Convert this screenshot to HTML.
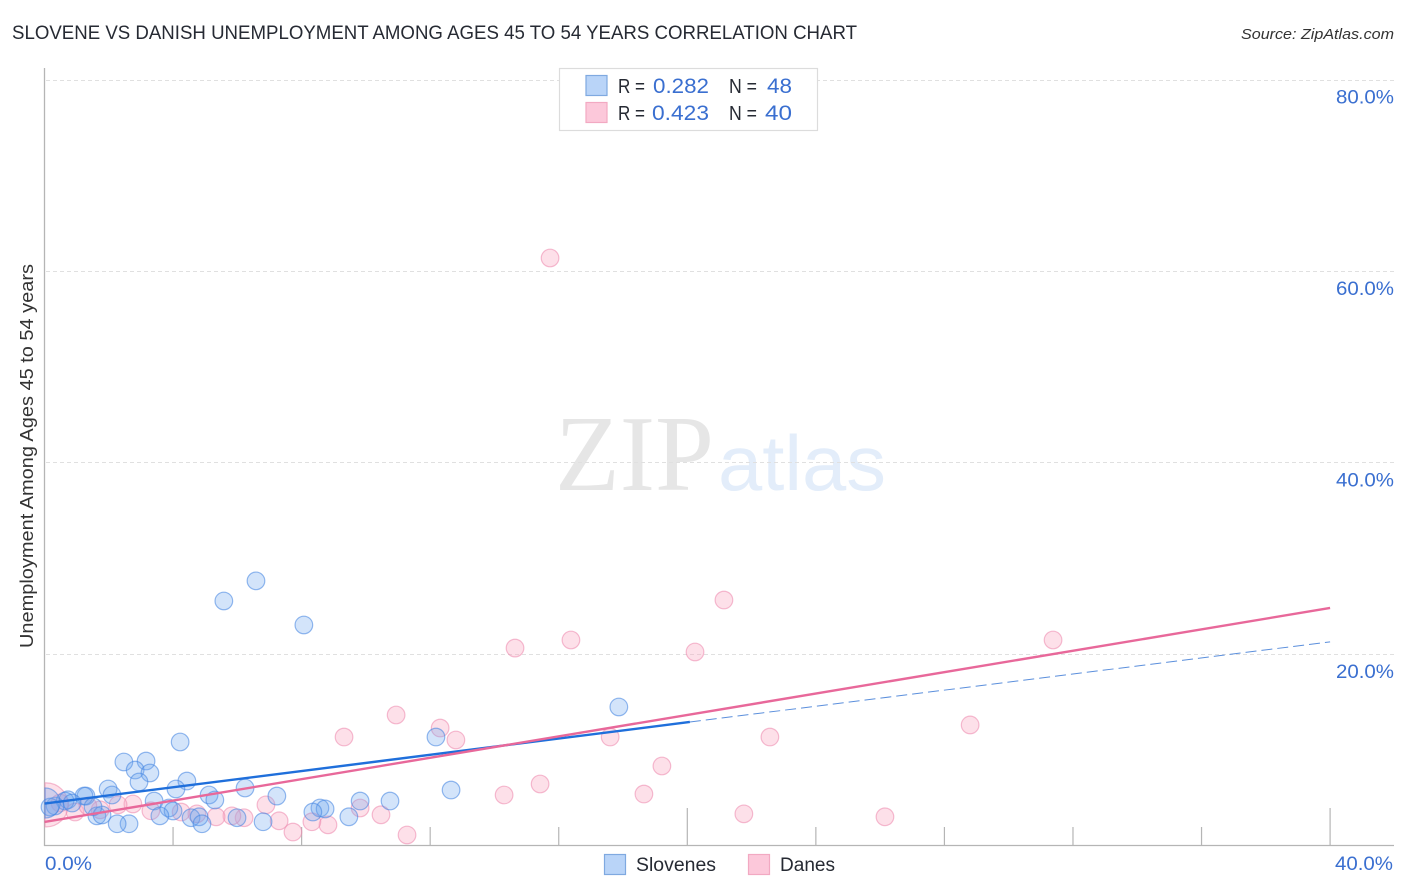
<!DOCTYPE html>
<html>
<head>
<meta charset="utf-8">
<title>Slovene vs Danish Unemployment Correlation Chart</title>
<style>
html,body{margin:0;padding:0;background:#fff;width:1406px;height:892px;overflow:hidden}
svg{display:block;font-family:"Liberation Sans",sans-serif}
</style>
</head>
<body>
<svg id="chart" xmlns="http://www.w3.org/2000/svg" width="1406" height="892" viewBox="0 0 1406 892">
  <text x="12" y="39" font-size="19" fill="#262a33" textLength="845" lengthAdjust="spacingAndGlyphs">SLOVENE VS DANISH UNEMPLOYMENT AMONG AGES 45 TO 54 YEARS CORRELATION CHART</text>
  <text x="1241" y="39" font-size="15" font-style="italic" fill="#333" textLength="153" lengthAdjust="spacingAndGlyphs">Source: ZipAtlas.com</text>

  <g id="watermark">
    <text x="555" y="490" font-family="'Liberation Serif',serif" font-size="108" fill="#e6e6e6" textLength="159" lengthAdjust="spacingAndGlyphs">ZIP</text>
    <text x="718" y="490" font-size="78" fill="#e3edfa" textLength="168" lengthAdjust="spacingAndGlyphs">atlas</text>
  </g>

  <g id="grid"></g>
  <g id="axes"></g>
  <g id="dots"></g>
  <g id="lines"></g>
  <g id="labels"></g>

  <text transform="translate(33,648) rotate(-90)" font-size="18" fill="#333" textLength="384" lengthAdjust="spacingAndGlyphs">Unemployment Among Ages 45 to 54 years</text>

  <g>
    <rect x="559.5" y="68.5" width="258" height="62" fill="#fff" stroke="#dcdcdc" stroke-width="1.2"/>
    <rect x="586" y="75.500" width="21" height="20" fill="#b9d4f8" stroke="#7fa9e0" stroke-width="1.2"/>
    <rect x="586" y="102.500" width="21" height="20" fill="#fcc8da" stroke="#f2a9c2" stroke-width="1.2"/>
    <text x="618" y="93" font-size="20" fill="#262a33" textLength="27" lengthAdjust="spacingAndGlyphs">R =</text>
    <text x="653" y="93" font-size="21" fill="#3a6fd0" textLength="56" lengthAdjust="spacingAndGlyphs">0.282</text>
    <text x="729" y="93" font-size="20" fill="#262a33" textLength="28" lengthAdjust="spacingAndGlyphs">N =</text>
    <text x="767" y="93" font-size="21" fill="#3a6fd0" textLength="25" lengthAdjust="spacingAndGlyphs">48</text>
    <text x="618" y="120" font-size="20" fill="#262a33" textLength="27" lengthAdjust="spacingAndGlyphs">R =</text>
    <text x="652" y="120" font-size="21" fill="#3a6fd0" textLength="57" lengthAdjust="spacingAndGlyphs">0.423</text>
    <text x="729" y="120" font-size="20" fill="#262a33" textLength="28" lengthAdjust="spacingAndGlyphs">N =</text>
    <text x="765" y="120" font-size="21" fill="#3a6fd0" textLength="27" lengthAdjust="spacingAndGlyphs">40</text>
  </g>

  <g>
    <rect x="604.500" y="854.500" width="21" height="20" fill="#b9d4f8" stroke="#7fa9e0" stroke-width="1.2"/>
    <text x="636" y="871" font-size="19" fill="#262a33" textLength="80" lengthAdjust="spacingAndGlyphs">Slovenes</text>
    <rect x="748.500" y="854.500" width="21" height="20" fill="#fcc8da" stroke="#f2a9c2" stroke-width="1.2"/>
    <text x="780" y="871" font-size="19" fill="#262a33" textLength="55" lengthAdjust="spacingAndGlyphs">Danes</text>
  </g>
</svg>
<script>
const slovenesX = [5.58,6.58,8.07,17.87,12.18,4.22,2.47,3.16,2.82,3.28,2.94,4.43,4.09,1.98,1.29,1.23,2.10,5.12,5.30,6.24,7.23,12.65,10.75,9.82,8.57,8.73,8.35,9.47,3.41,3.87,4.00,3.59,4.56,4.81,4.90,5.99,6.80,2.63,2.26,1.63,1.79,1.51,0.73,0.64,0.33,0.17,0.86,0.02];
const slovenesY = [25.57,27.67,23.06,14.49,11.35,10.83,8.74,8.84,7.90,7.59,6.65,6.75,5.92,5.92,5.18,5.18,5.29,5.29,4.77,6.02,5.18,5.81,4.66,4.66,3.93,3.83,3.51,3.01,4.66,3.93,3.62,3.11,2.91,3.01,2.28,2.91,2.49,2.28,2.28,3.11,3.20,4.06,4.79,4.66,4.14,4.03,4.45,4.45];
const danesX = [15.73,21.14,16.38,14.64,20.24,31.38,10.94,9.32,12.31,12.80,17.60,22.57,28.80,19.21,15.42,18.65,14.30,21.76,26.15,11.28,7.73,8.82,8.32,10.47,9.82,6.89,7.30,6.21,5.83,5.34,4.74,4.25,3.31,2.75,2.29,1.73,0.95,0.48,1.35,0.05];
const danesY = [61.42,25.67,21.49,20.65,20.24,21.49,13.65,11.35,12.29,11.04,11.35,11.35,12.61,8.32,6.44,5.39,5.29,3.32,3.01,1.11,1.42,2.17,2.49,3.22,3.93,4.26,2.59,2.91,3.11,3.01,3.32,3.51,3.64,4.35,4.26,3.74,3.51,4.45,4.14,4.26];
const slovenesTrendX = [0,20.08];
const slovenesTrendY = [4.4,12.92];
const slovenesProjectionX = [20.08,40];
const slovenesProjectionY = [12.92,21.3];
const danesTrendX = [0,40];
const danesTrendY = [2.47,24.84];
const yTicks = [20,40,60,80];
const yTickLabels = ["20.0%","40.0%","60.0%","80.0%"];
const xTicks = [4,8,12,16,20,24,28,32,36,40];
const xMajorTicks = [20,40];
const xEndTicks = [0,40];
const xEndLabels = ["0.0%","40.0%"];

const NS = "http://www.w3.org/2000/svg";
function sx(v){ return 44.5 + v * 32.14; }
function sy(v){ return 845.6 - v * 9.567; }
function make(tag, attrs, parent){
  const el = document.createElementNS(NS, tag);
  for (const k in attrs) el.setAttribute(k, attrs[k]);
  parent.appendChild(el);
  return el;
}
// A bubble that crosses the y-axis is cut off at the axis, as in the reference.
function clippedBubble(cx, cy, r){
  const edge = 45;
  const dy = Math.sqrt(Math.max(0, r * r - (edge - cx) * (edge - cx)));
  return 'M' + edge + ' ' + (cy - dy) + 'A' + r + ' ' + r + ' 0 1 1 ' + edge + ' ' + (cy + dy) + 'Z';
}
const grid = document.getElementById('grid');
const axes = document.getElementById('axes');
const dots = document.getElementById('dots');
const lines = document.getElementById('lines');
const labels = document.getElementById('labels');

yTicks.forEach(function(t, i){
  const gy = Math.floor(sy(t)) + 0.5;
  const g = make('line', {x1:46, x2:1394, y1:gy, y2:gy, stroke:'#e0e0e0', 'stroke-width':1, 'stroke-dasharray':'4 3'}, grid);
  
  
  const l = make('text', {x:1336, y:sy(t) + 23.5, 'font-size':19, fill:'#3a6fd0', textLength:58, lengthAdjust:'spacingAndGlyphs'}, labels);
  l.textContent = yTickLabels[i];
  
  
});

const yAxis = make('line', {x1:44.5, x2:44.5, y1:68, y2:846, stroke:'#b5b5b5', 'stroke-width':1.3}, axes);


const xAxis = make('line', {x1:44, x2:1394, y1:845.5, y2:845.5, stroke:'#b5b5b5', 'stroke-width':1.3}, axes);



xTicks.forEach(function(t){
  const top = xMajorTicks.indexOf(t) >= 0 ? 808 : 827;
  const k = make('line', {x1:sx(t), x2:sx(t), y1:top, y2:845, stroke:'#b5b5b5', 'stroke-width':1.2}, axes);
  
  
});

xEndTicks.forEach(function(t, i){
  const l = make('text', {x: i === 0 ? 45 : 1335, y:870, 'font-size':19, fill:'#3a6fd0', textLength: i === 0 ? 47 : 58, lengthAdjust:'spacingAndGlyphs'}, labels);
  l.textContent = xEndLabels[i];
  
  
});

const danesFill = 'rgba(250,170,195,0.36)';
const danesStroke = 'rgba(238,140,175,0.58)';
const slovenesFill = 'rgba(110,165,240,0.3)';
const slovenesStroke = 'rgba(70,135,225,0.58)';

danesX.forEach(function(x, i){
  const big = i === danesX.length - 1;
  const c = big
    ? make('path', {d:clippedBubble(sx(x), sy(danesY[i]), 22), fill:danesFill, stroke:danesStroke, 'stroke-width':1.2}, dots)
    : make('circle', {cx:sx(x), cy:sy(danesY[i]), r:8.8, fill:danesFill, stroke:danesStroke, 'stroke-width':1.2}, dots);
  
  
});
slovenesX.forEach(function(x, i){
  const big = i === slovenesX.length - 1;
  const c = big
    ? make('path', {d:clippedBubble(sx(x), sy(slovenesY[i]), 15), fill:slovenesFill, stroke:slovenesStroke, 'stroke-width':1.2}, dots)
    : make('circle', {cx:sx(x), cy:sy(slovenesY[i]), r:8.8, fill:slovenesFill, stroke:slovenesStroke, 'stroke-width':1.2}, dots);
  
  
});

const projection = make('line', {x1:sx(slovenesProjectionX[0]), y1:sy(slovenesProjectionY[0]), x2:sx(slovenesProjectionX[1]), y2:sy(slovenesProjectionY[1]), stroke:'#5b8fdc', 'stroke-width':1, 'stroke-dasharray':'11 5'}, lines);


const slovenesLine = make('line', {x1:sx(slovenesTrendX[0]), y1:sy(slovenesTrendY[0]), x2:sx(slovenesTrendX[1]), y2:sy(slovenesTrendY[1]), stroke:'#1f6fdb', 'stroke-width':2.4}, lines);


const danesLine = make('line', {x1:sx(danesTrendX[0]), y1:sy(danesTrendY[0]), x2:sx(danesTrendX[1]), y2:sy(danesTrendY[1]), stroke:'#e8689a', 'stroke-width':2.4}, lines);


</script>
</body>
</html>
